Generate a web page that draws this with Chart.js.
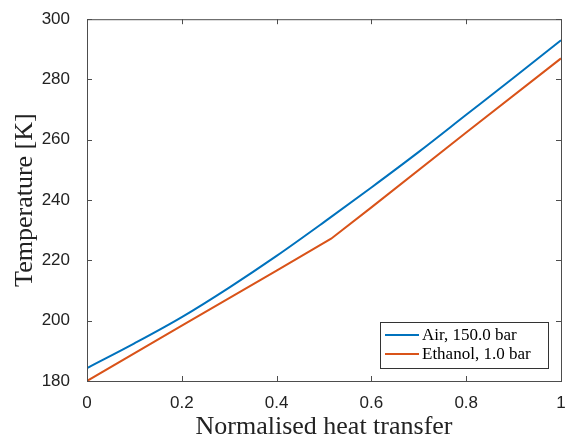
<!DOCTYPE html>
<html>
<head>
<meta charset="utf-8">
<script src="https://cdn.jsdelivr.net/npm/chart.js@4/dist/chart.umd.min.js"></script>
<style>
  body { margin: 0; background: #fff; }
  #wrap { width: 570px; height: 441px; position: relative; }
</style>
</head>
<body>
<div id="wrap"><canvas id="chart"></canvas></div>
<script>
// values
const heatX = [0, 0.1, 0.2, 0.3, 0.4, 0.5, 0.6, 0.7, 0.8, 0.9, 1.0];
const airTemp = [184.3, 192.5, 201.2, 211.0, 221.5, 232.7, 244.2, 256.0, 268.3, 280.6, 293.0];

const ethX = [0, 0.2, 0.4, 0.515, 0.6, 0.8, 1.0];
const ethTemp = [180.0, 198.4, 216.6, 227.2, 237.6, 262.4, 287.0];

const seriesNames = ['Air, 150.0 bar', 'Ethanol, 1.0 bar'];
const xTickLabels = ['0', '0.2', '0.4', '0.6', '0.8', '1'];
const yTickLabels = ['180', '200', '220', '240', '260', '280', '300'];

const blue = '#0072BD';
const orange = '#D95319';
const axisCol = '#4d4d4d';

// box + inward ticks + legend drawn on top of the chart area
const matlabAxes = {
  id: 'matlabAxes',
  afterDraw(chart) {
    const { ctx, chartArea: a, scales } = chart;
    ctx.save();
    ctx.strokeStyle = axisCol;
    ctx.lineWidth = 1;
    ctx.strokeRect(a.left + 0.5, a.top + 0.5, a.right - a.left, a.bottom - a.top);
    const tl = 5;
    ctx.beginPath();
    scales.x.ticks.forEach(t => {
      const px = Math.round(scales.x.getPixelForValue(t.value)) + 0.5;
      ctx.moveTo(px, a.bottom); ctx.lineTo(px, a.bottom - tl);
      ctx.moveTo(px, a.top); ctx.lineTo(px, a.top + tl);
    });
    scales.y.ticks.forEach(t => {
      const py = Math.round(scales.y.getPixelForValue(t.value)) + 0.5;
      ctx.moveTo(a.left, py); ctx.lineTo(a.left + tl, py);
      ctx.moveTo(a.right, py); ctx.lineTo(a.right - tl, py);
    });
    ctx.stroke();

    // legend box, bottom right inside the axes
    const w = 168, h = 46;
    const lx = a.right - 13 - w, ly = a.bottom - 13 - h;
    ctx.fillStyle = '#fff';
    ctx.fillRect(lx, ly, w, h);
    ctx.strokeStyle = '#333';
    ctx.strokeRect(lx + 0.5, ly + 0.5, w, h);
    ctx.font = '17px "Liberation Serif", serif';
    ctx.textBaseline = 'middle';
    chart.data.datasets.forEach((ds, i) => {
      const yy = ly + 13 + i * 19;
      ctx.strokeStyle = ds.borderColor;
      ctx.lineWidth = 2;
      ctx.beginPath();
      ctx.moveTo(lx + 5, yy); ctx.lineTo(lx + 39, yy);
      ctx.stroke();
      ctx.fillStyle = '#000';
      ctx.fillText(ds.label, lx + 42, yy + 1);
    });
    ctx.restore();
  }
};

new Chart(document.getElementById('chart'), {
  type: 'scatter',
  data: {
    datasets: [
      {
        label: seriesNames[0],
        data: heatX.map((x, i) => ({ x, y: airTemp[i] })),
        showLine: true, borderColor: blue, borderWidth: 2,
        pointRadius: 0, tension: 0.4, cubicInterpolationMode: 'monotone'
      },
      {
        label: seriesNames[1],
        data: ethX.map((x, i) => ({ x, y: ethTemp[i] })),
        showLine: true, borderColor: orange, borderWidth: 2,
        pointRadius: 0, tension: 0
      }
    ]
  },
  options: {
    responsive: true,
    maintainAspectRatio: false,
    animation: false,
    layout: { padding: { top: 19, right: 9, left: 0, bottom: 0 } },
    plugins: { legend: { display: false }, tooltip: { enabled: false } },
    scales: {
      x: {
        type: 'linear', min: 0, max: 1,
        afterFit(s) { s.height = 60; },
        ticks: {
          stepSize: 0.2, padding: 4, color: '#222',
          font: { family: '"Liberation Sans", Arial, sans-serif', size: 17 },
          callback: (v) => xTickLabels[Math.round(v / 0.2)]
        },
        grid: { display: false },
        border: { display: false },
        title: {
          display: true, text: 'Normalised heat transfer', color: '#222',
          font: { family: '"Liberation Serif", serif', size: 26, lineHeight: 1.05 },
          padding: { top: 0, bottom: 0 }
        }
      },
      y: {
        min: 180, max: 300,
        afterFit(s) { s.width = 87; },
        ticks: {
          stepSize: 20, padding: 9, color: '#222',
          font: { family: '"Liberation Sans", Arial, sans-serif', size: 17 },
          callback: (v) => yTickLabels[Math.round((v - 180) / 20)]
        },
        grid: { display: false },
        border: { display: false },
        title: {
          display: true, text: 'Temperature [K]', color: '#222',
          font: { family: '"Liberation Serif", serif', size: 26 }, padding: { top: 10, bottom: 0 }
        }
      }
    }
  },
  plugins: [matlabAxes]
});
</script>
</body>
</html>
